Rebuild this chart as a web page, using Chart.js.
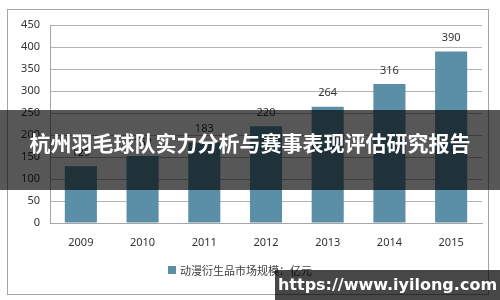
<!DOCTYPE html>
<html>
<head>
<meta charset="utf-8">
<script src="https://cdn.jsdelivr.net/npm/chart.js@4/dist/chart.umd.min.js"></script>
<style>
  html, body { margin: 0; padding: 0; background: #fff; }
  #wrap { position: relative; width: 500px; height: 300px; overflow: hidden; font-family: "Noto Sans", "Noto Sans CJK SC", sans-serif; }
  #frame { position: absolute; left: 7px; top: 9px; width: 482px; height: 286px; border: 1px solid #a6a6a6; box-sizing: border-box; }
  canvas { position: absolute; left: 0; top: 0; }
  #legend { position: absolute; left: 168px; top: 262px; font-size: 11px; color: #404040; display: flex; align-items: center; font-family: "Noto Sans CJK SC", sans-serif; }
  #legend i { display: inline-block; width: 8px; height: 8px; background: #5b8fa8; margin-right: 4px; }
  #banner { position: absolute; left: 0; top: 110px; width: 500px; height: 80px; background: rgba(0,0,0,0.66); }
  #banner span { position: absolute; left: 0; right: 0; top: 17px; text-align: center; color: #fff; font-weight: bold; font-size: 21px; font-family: "Noto Sans CJK SC", sans-serif; }
  #mark { position: absolute; left: 275px; top: 270px; width: 225px; height: 30px; background: rgba(0,0,0,0.72); color: #fff; font-weight: bold; font-size: 16px; line-height: 30px; text-align: center; font-family: "DejaVu Sans", sans-serif; }
</style>
</head>
<body>
<div id="wrap">
  <div id="frame"></div>
  <canvas id="chart" width="500" height="300"></canvas>
  <div id="legend"><i></i>动漫衍生品市场规模：亿元</div>
  <div id="banner"><span>杭州羽毛球队实力分析与赛事表现评估研究报告</span></div>
  <div id="mark">https://www.iyilong.com</div>
</div>
<script>
const years = ["2009", "2010", "2011", "2012", "2013", "2014", "2015"];
const marketSize = [129, 152, 183, 220, 264, 316, 390];
const seriesName = "动漫衍生品市场规模：亿元";

const BAR = "#5b8fa8";
const TEXT = "#333";

// value labels above each bar
const barLabels = {
  id: "barLabels",
  afterDatasetsDraw(chart) {
    const { ctx } = chart;
    const meta = chart.getDatasetMeta(0);
    ctx.save();
    ctx.fillStyle = TEXT;
    ctx.font = "11px 'Noto Sans', sans-serif";
    ctx.textAlign = "center";
    ctx.textBaseline = "bottom";
    meta.data.forEach((bar, i) => {
      ctx.fillText(marketSize[i], bar.x, bar.y - 8);
    });
    ctx.restore();
  },
};

new Chart(document.getElementById("chart"), {
  type: "bar",
  data: {
    labels: years,
    datasets: [{ label: seriesName, data: marketSize, backgroundColor: BAR, categoryPercentage: 1, barPercentage: 0.52 }],
  },
  options: {
    responsive: false,
    animation: false,
    layout: { padding: { left: 10, right: 18, top: 25, bottom: 0 } },
    plugins: { legend: { display: false }, tooltip: { enabled: false } },
    scales: {
      x: {
        grid: { display: false, drawTicks: false },
        border: { color: "#a6a6a6" },
        ticks: { color: TEXT, font: { size: 11, family: "'Noto Sans', sans-serif" }, padding: 13 },
        afterFit: (s) => { s.height = 77; },
      },
      y: {
        min: 0, max: 450,
        ticks: { stepSize: 50, color: TEXT, font: { size: 11, family: "'Noto Sans', sans-serif" }, padding: 10 },
        grid: { color: "#b3b3b3", drawTicks: false },
        border: { color: "#a6a6a6" },
        afterFit: (s) => { s.width = 40; },
      },
    },
  },
  plugins: [barLabels],
});
</script>
</body>
</html>
